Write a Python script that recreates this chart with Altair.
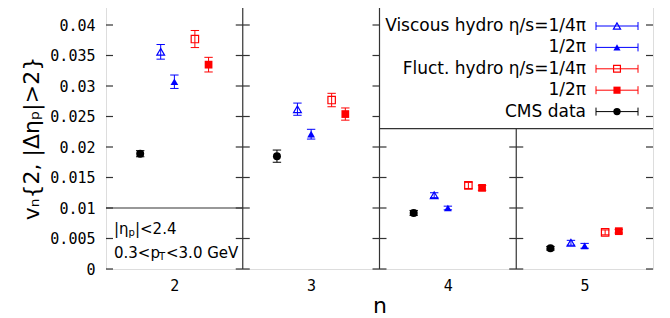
import altair as alt
import pandas as pd

# ---- data ----
n_values = [2, 3, 4, 5]
y_ticks = [0, 0.005, 0.01, 0.015, 0.02, 0.025, 0.03, 0.035, 0.04]

cms = [0.0189, 0.0185, 0.0092, 0.0034]
cms_err = [0.0005, 0.0010, 0.0004, 0.0003]
visc14 = [0.0356, 0.0262, 0.0121, 0.0043]
visc14_err = [0.0012, 0.0010, 0.0004, 0.0004]
visc12 = [0.0307, 0.0221, 0.0100, 0.0038]
visc12_err = [0.0011, 0.0008, 0.0003, 0.0004]
fluct14 = [0.0377, 0.0277, 0.0137, 0.0060]
fluct14_err = [0.0014, 0.0011, 0.0005, 0.0004]
fluct12 = [0.0335, 0.0254, 0.0133, 0.0062]
fluct12_err = [0.0012, 0.0010, 0.0004, 0.0003]

legend_labels = ["Viscous hydro η/s=1/4π", "1/2π", "Fluct. hydro η/s=1/4π", "1/2π", "CMS data"]

BLUE = "#0000ff"
RED = "#ff0000"
BLACK = "#000000"

series = [
    dict(vals=visc14, errs=visc14_err, off=-0.10, color=BLUE, shape="triangle-up", filled=False, size=60),
    dict(vals=visc12, errs=visc12_err, off=0.00, color=BLUE, shape="triangle-up", filled=True, size=60),
    dict(vals=fluct14, errs=fluct14_err, off=0.15, color=RED, shape="square", filled=False, size=55),
    dict(vals=fluct12, errs=fluct12_err, off=0.25, color=RED, shape="square", filled=True, size=60),
    dict(vals=cms, errs=cms_err, off=-0.25, color=BLACK, shape="circle", filled=True, size=64),
]

# ---- layout ----
W, H = 547, 262
XMIN, XMAX = 1.5, 5.5
YMAX = 0.04 * H / 244.0
px_x = (XMAX - XMIN) / W          # data units per pixel (x)
px_y = YMAX / H                   # data units per pixel (y)
CAP = 4.2 * px_x
TICK = 7 * px_x
LEGEND_SPLIT = 0.023
BOX_SPLIT = 0.01

xscale = alt.Scale(domain=[XMIN, XMAX], nice=False, zero=False)
yscale = alt.Scale(domain=[0, YMAX], nice=False, zero=False)

xaxis = alt.Axis(values=n_values, format="d", ticks=False, domain=False, grid=False,
                 labelFont="DejaVu Sans Mono", labelFontSize=15, labelPadding=9,
                 labelColor="black", title="n", titleFont="DejaVu Sans", titleFontSize=22,
                 titleFontWeight="normal", titleColor="black", titlePadding=2)
yaxis = alt.Axis(values=y_ticks, format="~g", ticks=False, tickSize=0, domain=False, grid=False,
                 labelFont="DejaVu Sans Mono", labelFontSize=15, labelPadding=11,
                 labelColor="black", title="vₙ{2, |Δηₚ|>2}", titleFont="DejaVu Sans",
                 titleFontSize=22, titleFontWeight="normal", titleColor="black", titlePadding=6)


def X(f="x"):
    return alt.X(f"{f}:Q", scale=xscale, axis=xaxis)


def Y(f="y"):
    return alt.Y(f"{f}:Q", scale=yscale, axis=yaxis)


layers = []

# frame lines (panel separators)
seg_rows = [
    dict(x=2.5, x2=2.5, y=0, y2=YMAX),
    dict(x=3.5, x2=3.5, y=0, y2=YMAX),
    dict(x=4.5, x2=4.5, y=0, y2=LEGEND_SPLIT),
    dict(x=3.5, x2=5.5, y=LEGEND_SPLIT, y2=LEGEND_SPLIT),
    dict(x=1.5, x2=2.5, y=BOX_SPLIT, y2=BOX_SPLIT),
]
layers.append(alt.Chart(pd.DataFrame(seg_rows)).mark_rule(color="#333333", strokeWidth=1.2).encode(
    x=X(), x2="x2:Q", y=Y(), y2="y2:Q"))

# y ticks on each panel border
tick_rows = []
for yv in y_ticks:
    tick_rows.append(dict(x=XMIN, x2=XMIN + TICK, y=yv))
    tick_rows.append(dict(x=2.5 - TICK, x2=2.5 + TICK, y=yv))
    if yv < LEGEND_SPLIT:
        tick_rows.append(dict(x=3.5 - TICK, x2=3.5 + TICK, y=yv))
        tick_rows.append(dict(x=4.5 - TICK, x2=4.5 + TICK, y=yv))
    else:
        tick_rows.append(dict(x=3.5 - TICK, x2=3.5, y=yv))
    tick_rows.append(dict(x=XMAX - TICK, x2=XMAX, y=yv))
layers.append(alt.Chart(pd.DataFrame(tick_rows)).mark_rule(color="#333333", strokeWidth=1.2).encode(
    x=X(), x2="x2:Q", y=Y()))

# data series with error bars
for s in series:
    rows = []
    for n, v, e in zip(n_values, s["vals"], s["errs"]):
        xv = n + s["off"]
        rows.append(dict(x=xv, y=v, lo=v - e, hi=v + e, xl=xv - CAP, xr=xv + CAP))
    df = pd.DataFrame(rows)
    base = alt.Chart(df)
    layers.append(base.mark_rule(color=s["color"], strokeWidth=1).encode(x=X(), y=Y("lo"), y2="hi:Q"))
    layers.append(base.mark_rule(color=s["color"], strokeWidth=1).encode(x=X("xl"), x2="xr:Q", y=Y("hi")))
    layers.append(base.mark_rule(color=s["color"], strokeWidth=1).encode(x=X("xl"), x2="xr:Q", y=Y("lo")))
    layers.append(base.mark_point(shape=s["shape"], filled=s["filled"], color=s["color"],
                                  size=s["size"], opacity=1, strokeWidth=1.2).encode(x=X(), y=Y()))

# legend (inside plot, top right)
LEG_TEXT_X = XMIN + 480 * px_x
LEG_L = XMIN + 490 * px_x
LEG_R = XMIN + 532 * px_x
LEG_M = (LEG_L + LEG_R) / 2
LEG_TOP = YMAX - 19 * px_y
LEG_STEP = 21.4 * px_y
LEG_CAP = 4 * px_y
for i, (lab, s) in enumerate(zip(legend_labels, series)):
    yv = LEG_TOP - i * LEG_STEP
    d = pd.DataFrame([dict(x=LEG_L, x2=LEG_R, xm=LEG_M, xt=LEG_TEXT_X, y=yv,
                           lo=yv - LEG_CAP, hi=yv + LEG_CAP, label=lab)])
    b = alt.Chart(d)
    layers.append(b.mark_rule(color=s["color"], strokeWidth=1).encode(x=X(), x2="x2:Q", y=Y()))
    layers.append(b.mark_rule(color=s["color"], strokeWidth=1).encode(x=X(), y=Y("lo"), y2="hi:Q"))
    layers.append(b.mark_rule(color=s["color"], strokeWidth=1).encode(x=X("x2"), y=Y("lo"), y2="hi:Q"))
    layers.append(b.mark_point(shape=s["shape"], filled=s["filled"], color=s["color"],
                               size=s["size"] * 0.85, opacity=1, strokeWidth=1.2).encode(x=X("xm"), y=Y()))
    layers.append(b.mark_text(align="right", baseline="middle", font="DejaVu Sans", fontSize=17,
                              color="black").encode(x=X("xt"), y=Y(), text="label:N"))

# kinematic-cut annotation (bottom-left box) with subscripts
ANN_X = XMIN + 8 * px_x
ANN_Y1 = (268 - 227.5) * px_y
ANN_Y2 = (268 - 251.5) * px_y
ann_parts = [
    ("|η", ANN_Y1, 0, 0, 15),
    ("p", ANN_Y1, 14.5, 4, 10),
    ("|<2.4", ANN_Y1, 21, 0, 15),
    ("0.3<p", ANN_Y2, 0, 0, 15),
    ("T", ANN_Y2, 45, 4, 10),
    ("<3.0 GeV", ANN_Y2, 52, 0, 15),
]
for txt, yv, dx, dy, fs in ann_parts:
    d = pd.DataFrame([dict(x=ANN_X, y=yv, t=txt)])
    layers.append(alt.Chart(d).mark_text(align="left", baseline="middle", font="DejaVu Sans",
                                         fontSize=fs, dx=dx, dy=dy, color="black").encode(
        x=X(), y=Y(), text="t:N"))

chart = alt.layer(*layers).properties(
    width=W, height=H,
    padding={"left": 12, "top": -2, "right": 5, "bottom": 5},
).configure_view(stroke="#222222", strokeWidth=1.6).configure(background="white")

chart.save("out.html", embed_options={"renderer": "svg", "actions": False})
